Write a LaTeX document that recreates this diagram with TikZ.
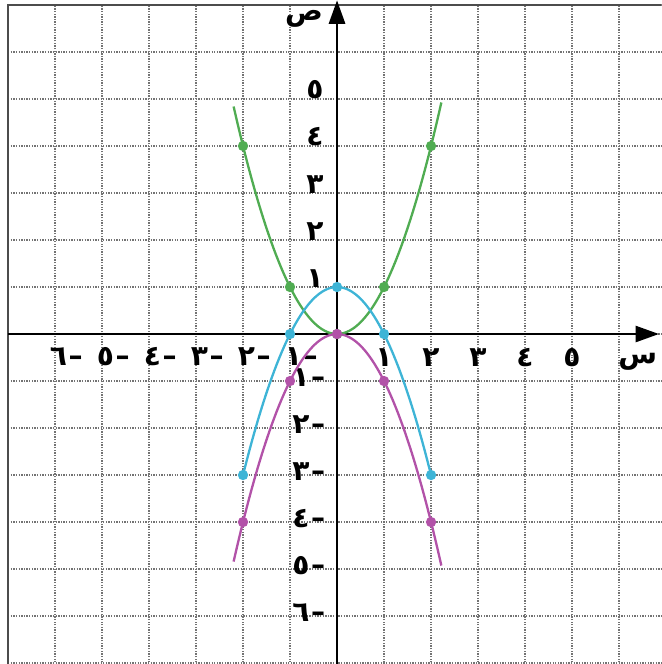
\documentclass[tikz,border=0pt]{standalone}
\usepackage{fontspec}
\newfontfamily\arabicfont[Script=Arabic]{DejaVu Sans}
\TeXXeTstate=1
\usepackage{tikz}
\usetikzlibrary{arrows.meta}
\definecolor{parabgreen}{RGB}{80,172,82}
\definecolor{parabcyan}{RGB}{62,180,214}
\definecolor{parabpink}{RGB}{178,82,168}

\begin{document}
\begin{tikzpicture}[
  gridline/.style={black!55, dash pattern=on 0.8pt off 0.8pt, line width=0.7pt},
  axisline/.style={-{Triangle[length=5mm,width=3.4mm]}, line width=1.7pt},
  curve/.style={draw=#1, line width=1.4pt},
  lbl/.style={font=\arabicfont\bfseries\fontsize{17}{17}\selectfont, inner sep=0pt}
]
  \useasboundingbox (-7.17,-7.02) rectangle (6.894,7.106);

  % Grid and frame
  \draw[gridline] (-7,-7.1) grid (6.9,7);
  \draw[black!70, line width=1.3pt] (-7,-7.1) -- (-7,7) -- (6.9,7);

  % Axes
  \coordinate (xs) at (-7,0);
  \coordinate (xe) at (6.85,0);
  \coordinate (ys) at (0,-7.1);
  \coordinate (ye) at (0,7.1);
  \draw[axisline] (xs) -- (xe);
  \draw[axisline] (ys) -- (ye);
  \node[lbl] (xlab) at (6.4,-0.6) {\beginR س\endR};
  \node[lbl] (ylab) at (-0.7,6.7) {\beginR ص\endR};

  % Tick labels
  \foreach \k/\d in {1/١,2/٢,3/٣,4/٤,5/٥}{
    \node[lbl, anchor=base] (xp\k) at (\k,-0.7) {\d};
    \node[lbl, anchor=base] (yp\k) at (-0.47,\k) {\d};
  }
  \foreach \k/\d in {1/١,2/٢,3/٣,4/٤,5/٥,6/٦}{
    \node[lbl, anchor=base] (xn\k) at (-\k+0.24,-0.68) {\d\kern1pt–};
    \node[lbl, anchor=base] (yn\k) at (-0.6,-\k-0.12) {\d\kern1pt–};
  }

  % Parabolas
  \draw[curve=parabgreen] plot[domain=-2.2:2.22, samples=60, smooth] (\x,{\x*\x});
  \draw[curve=parabcyan] plot[domain=-2:2, samples=60, smooth] (\x,{1-\x*\x});
  \draw[curve=parabpink] plot[domain=-2.2:2.22, samples=60, smooth] (\x,{-\x*\x});

  % Points
  \foreach \x in {-2,...,2}{
    \fill[parabgreen] (\x,{\x*\x}) circle (0.11);
    \fill[parabcyan] (\x,{1-\x*\x}) circle (0.11);
    \fill[parabpink] (\x,{-\x*\x}) circle (0.11);
  }
\end{tikzpicture}
\end{document}
